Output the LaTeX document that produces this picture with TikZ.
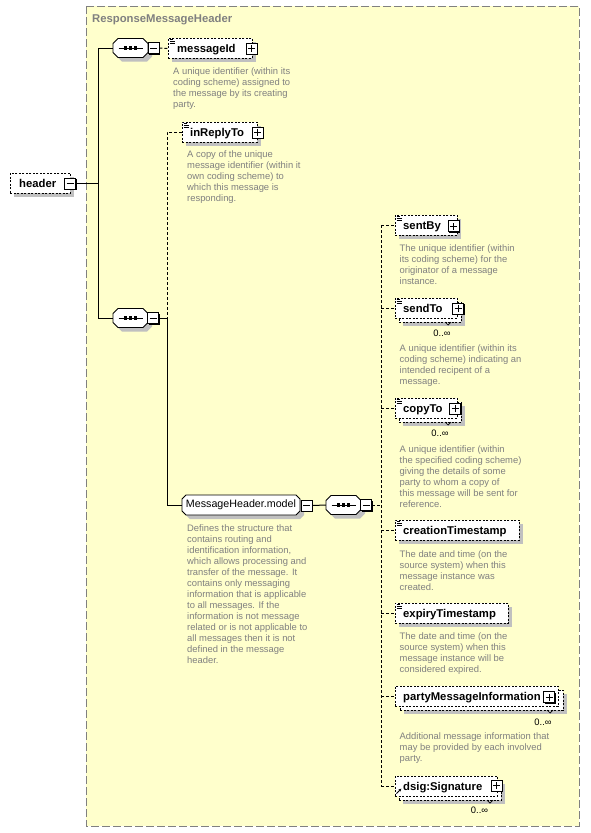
\documentclass[tikz,border=0pt]{standalone}
\usepackage{fontspec}
\setmainfont{Liberation Sans}
\usetikzlibrary{shadows,arrows.meta}
\definecolor{bgy}{HTML}{FFFFCC}
\definecolor{bord}{HTML}{808080}
\definecolor{dgray}{HTML}{808080}
\definecolor{shgray}{HTML}{C0C0C0}
\pgfdeclarelayer{back}
\pgfdeclarelayer{bg}
\pgfsetlayers{back,bg,main}
\newcommand{\octpath}[5]{(#1+#5,#2) -- (#3-#5,#2) -- (#3,#2+#5) -- (#3,#4-#5) -- (#3-#5,#4) -- (#1+#5,#4) -- (#1,#4-#5) -- (#1,#2+#5) -- cycle}
\newcommand{\octa}[5]{\begin{pgfonlayer}{bg}\fill[shgray] \octpath{#1+4}{#2+4}{#3+4}{#4+4}{#5}; \draw[line width=0.9pt, fill=white] \octpath{#1}{#2}{#3}{#4}{#5};\end{pgfonlayer}}
\newcommand{\seqsym}[2]{\draw[line width=0.9pt] (#1-12,#2) -- (#1+12,#2);
  \foreach \d in {-5,0,5}{\fill (#1+\d-1.6,#2-1.6) rectangle (#1+\d+1.6,#2+1.6);}}
\tikzset{
 ebox/.style={draw, dash pattern=on 2pt off 1.5pt, line width=0.9pt, fill=white, minimum height=20pt, inner sep=0pt, anchor=north west},
 shad/.style={drop shadow={shadow xshift=4pt, shadow yshift=-4pt, fill=shgray, opacity=1}},
 lab/.style={font=\bfseries\fontsize{11.3}{13}\selectfont, inner sep=0pt, anchor=base west},
 desc/.style={font=\fontsize{9.4}{11}\selectfont, text=dgray, align=left, inner sep=0pt, anchor=north west},
 mult/.style={font=\fontsize{9.4}{11}\selectfont, inner sep=0pt, anchor=base},
 pmbase/.style={draw, fill=white, minimum size=11pt, inner sep=0pt, line width=0.8pt, drop shadow={shadow xshift=1pt, shadow yshift=-1pt, fill=black, opacity=1}},
 plusbox/.style={pmbase, path picture={
   \draw[line width=0.8pt] ([xshift=-3.5pt]path picture bounding box.center) -- ([xshift=3.5pt]path picture bounding box.center);
   \draw[line width=0.8pt] ([yshift=-3.5pt]path picture bounding box.center) -- ([yshift=3.5pt]path picture bounding box.center);}},
 minusbox/.style={pmbase, path picture={
   \draw[line width=0.8pt] ([xshift=-3.5pt]path picture bounding box.center) -- ([xshift=3.5pt]path picture bounding box.center);}},
 seqn/.style={minimum width=35pt, minimum height=19pt, inner sep=0pt},
 modeltext/.style={minimum width=118pt, minimum height=20pt, inner sep=0pt, font=\fontsize{10.7}{12}\selectfont},
 conn/.style={line width=1pt},
 dconn/.style={line width=1pt, dash pattern=on 3pt off 2pt},
 outer/.style={draw=bord, fill=bgy, line width=1pt, dash pattern=on 8pt off 3pt},
 notch/.style={line width=0.7pt},
 simpleicon/.pic={\draw[line width=0.7pt] (0,0) -- (3,0) (0,1.7) -- (5,1.7) (0,3.4) -- (5,3.4);}
}
\begin{document}
\begin{tikzpicture}[x=1pt,y=-1pt]
\useasboundingbox (0,0) rectangle (590,833);
\begin{pgfonlayer}{back}
\draw[outer] (86,6) rectangle (579,826);
\end{pgfonlayer}
\node[font=\bfseries\fontsize{11.3}{13}\selectfont, text=dgray, anchor=base west, inner sep=0pt] (title) at (92,22.5) {ResponseMessageHeader};

% header
\node[ebox, shad, minimum width=60pt] (header) at (10,173) {};
\node[lab] (headerlab) at (19,187.5) {header};
\node[minusbox] (headerm) at (70,183.5) {};

% sequences
\node[seqn] (seq1) at (130.5,48) {};
\octa{113}{38.5}{148}{57.5}{5}
\seqsym{130.5}{48}
\node[minusbox] (seq1m) at (153.5,48) {};
\node[seqn] (seq2) at (130.5,318) {};
\octa{113}{308.5}{148}{327.5}{5}
\seqsym{130.5}{318}
\node[minusbox] (seq2m) at (153,318) {};
\coordinate (j1) at (98,183.5);
\draw[conn] (headerm.east) -- (j1);
\draw[conn] (seq1.west) -| (j1);
\draw[conn] (seq2.west) -| (j1);

% messageId
\node[ebox, shad, minimum width=84pt] (messageId) at (168,38) {};
\pic at (169.5,39.5) {simpleicon};
\node[lab] (messageIdlab) at (177,52.5) {messageId};
\node[plusbox] (messageIdp) at (251.5,48.5) {};
\draw[dconn] (seq1m.east) -- (messageId.west);
\node[desc] (messageIddesc) at (173,67) {A unique identifier (within its\\coding scheme) assigned to\\the message by its creating\\party.};

% inReplyTo
\node[ebox, shad, minimum width=75pt] (inReplyTo) at (182,122) {};
\pic at (183.5,123.5) {simpleicon};
\node[lab] (inReplyTolab) at (190,136.5) {inReplyTo};
\node[plusbox] (inReplyTop) at (257.5,132.5) {};
\node[desc] (inReplyTodesc) at (187,150) {A copy of the unique\\message identifier (within it\\own coding scheme) to\\which this message is\\responding.};

% model group
\node[modeltext] (model) at (241,505) {MessageHeader.model};
\octa{182}{495}{300}{515}{4}
\node[minusbox] (modelm) at (306.5,505.5) {};
\node[desc] (modeldesc) at (187,524) {Defines the structure that\\contains routing and\\identification information,\\which allows processing and\\transfer of the message. It\\contains only messaging\\information that is applicable\\to all messages. If the\\information is not message\\related or is not applicable to\\all messages then it is not\\defined in the message\\header.};

\coordinate (j2) at (167,318);
\draw[conn] (seq2m.east) -- (j2);
\draw[dconn] (inReplyTo.west) -| (j2);
\draw[conn] (model.west) -| (j2);

% seq3
\node[seqn] (seq3) at (343.5,505) {};
\octa{326}{495.5}{361}{514.5}{5}
\seqsym{343.5}{505}
\node[minusbox] (seq3m) at (366,505) {};
\draw[conn] (modelm.east) -- (seq3.west);
\coordinate (j3) at (381,505);
\draw[dconn] (seq3m.east) -- (j3);

% sentBy
\node[ebox, shad, minimum width=62pt] (sentBy) at (395,215) {};
\pic at (396.5,216.5) {simpleicon};
\node[lab] (sentBylab) at (403,229.5) {sentBy};
\node[plusbox] (sentByp) at (453.5,226) {};
\node[desc] (sentBydesc) at (399.5,244) {The unique identifier (within\\its coding scheme) for the\\originator of a message\\instance.};

% sendTo
\node[ebox, shad, minimum width=62pt] (sendToback) at (399,302) {};
\node[ebox, minimum width=62pt] (sendTo) at (395,298) {};
\pic at (396.5,299.5) {simpleicon};
\node[lab] (sendTolab) at (403,312.5) {sendTo};
\node[plusbox] (sendTop) at (458,308.5) {};
\draw[notch] (445,322) -- (448,325) -- (451,322);
\node[mult] (sendTom) at (442,336) {0..∞};
\node[desc] (sendTodesc) at (399.5,344) {A unique identifier (within its\\coding scheme) indicating an\\intended recipent of a\\message.};

% copyTo
\node[ebox, shad, minimum width=62pt] (copyToback) at (399,402) {};
\node[ebox, minimum width=62pt] (copyTo) at (395,398) {};
\pic at (396.5,399.5) {simpleicon};
\node[lab] (copyTolab) at (403,412.5) {copyTo};
\node[plusbox] (copyTop) at (455,408.5) {};
\draw[notch] (445,422) -- (448,425) -- (451,422);
\node[mult] (copyTom) at (440,436) {0..∞};
\node[desc] (copyTodesc) at (399.5,445) {A unique identifier (within\\the specified coding scheme)\\giving the details of some\\party to whom a copy of\\this message will be sent for\\reference.};

% creationTimestamp
\node[ebox, shad, minimum width=124pt] (creation) at (395,520) {};
\pic at (396.5,521.5) {simpleicon};
\node[lab] (creationlab) at (403,534.5) {creationTimestamp};
\node[desc] (creationdesc) at (399.5,550) {The date and time (on the\\source system) when this\\message instance was\\created.};

% expiryTimestamp
\node[ebox, shad, minimum width=113pt] (expiry) at (395,603) {};
\pic at (396.5,604.5) {simpleicon};
\node[lab] (expirylab) at (403,617.5) {expiryTimestamp};
\node[desc] (expirydesc) at (399.5,632) {The date and time (on the\\source system) when this\\message instance will be\\considered expired.};

% partyMessageInformation
\node[ebox, shad, minimum width=163pt] (partyback) at (400,690) {};
\node[ebox, minimum width=163pt] (party) at (395,686) {};
\node[lab] (partylab) at (403,700.5) {partyMessageInformation};
\node[plusbox] (partyp) at (549,697) {};
\draw[notch] (547,710) -- (550,713) -- (553,710);
\node[mult] (partym) at (543,725) {0..∞};
\node[desc] (partydesc) at (399.5,732) {Additional message information that\\may be provided by each involved\\party.};

% dsig:Signature
\node[ebox, shad, minimum width=102pt] (dsigback) at (399,780) {};
\node[ebox, minimum width=102pt] (dsig) at (395,776) {};
\draw[line width=0.9pt, -{Latex[length=3pt,width=3pt]}] (396.5,793.5) -- (401.5,788.5);
\node[lab] (dsiglab) at (403,790.5) {dsig:Signature};
\node[plusbox] (dsigp) at (496.5,785.5) {};
\draw[notch] (487,800) -- (490,803) -- (493,800);
\node[mult] (dsigm) at (479.5,813) {0..∞};

% vertical choice line and child connectors
\draw[dconn] (sentBy.west -| j3) -- (dsig.west -| j3);
\foreach \c in {sentBy,sendTo,copyTo,creation,expiry,party,dsig}{
  \draw[dconn] (\c.west -| j3) -- (\c.west);
}
\end{tikzpicture}
\end{document}
